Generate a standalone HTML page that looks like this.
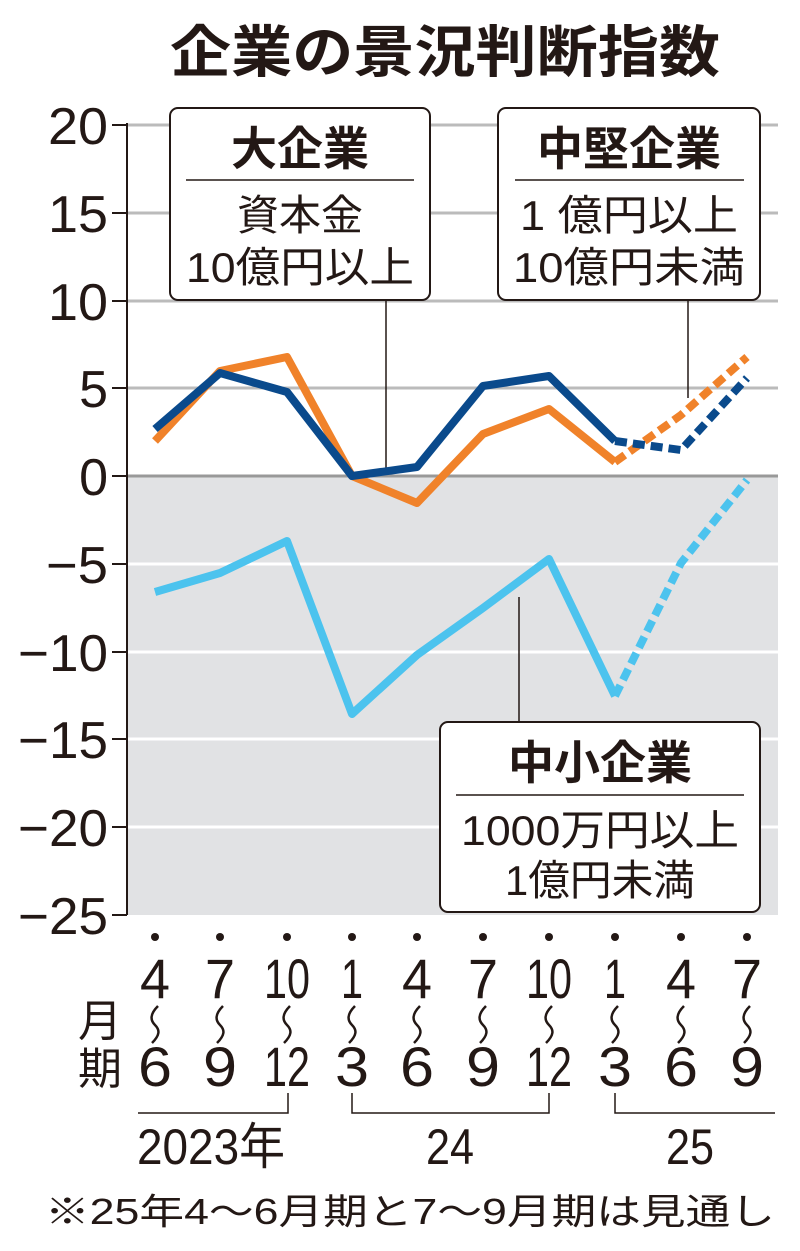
<!DOCTYPE html>
<html><head><meta charset="utf-8"><style>
body{margin:0;background:#fff}
svg{display:block}
text{font-family:"Liberation Sans","Noto Sans CJK JP",sans-serif;fill:#231815}
</style></head><body>
<svg width="800" height="1251" viewBox="0 0 800 1251" xmlns="http://www.w3.org/2000/svg">
<text x="445" y="72" font-size="56" font-weight="bold" text-anchor="middle" textLength="550" lengthAdjust="spacingAndGlyphs">企業の景況判断指数</text>
<rect x="127" y="476" width="651" height="439" fill="#e1e2e4"/>
<g stroke="#bbb" stroke-width="3">
<line x1="127" y1="125" x2="778" y2="125"/><line x1="127" y1="213" x2="778" y2="213"/>
<line x1="127" y1="301" x2="778" y2="301"/><line x1="127" y1="388" x2="778" y2="388"/>
</g>
<g stroke="#fff" stroke-width="3">
<line x1="127" y1="564" x2="778" y2="564"/><line x1="127" y1="652" x2="778" y2="652"/>
<line x1="127" y1="739" x2="778" y2="739"/><line x1="127" y1="827" x2="778" y2="827"/>
</g>
<line x1="127" y1="476" x2="778" y2="476" stroke="#999" stroke-width="3"/>
<line x1="127" y1="123" x2="127" y2="915" stroke="#231815" stroke-width="2"/>
<g stroke="#231815" stroke-width="2">
<line x1="112" y1="125" x2="127" y2="125"/><line x1="112" y1="213" x2="127" y2="213"/><line x1="112" y1="301" x2="127" y2="301"/><line x1="112" y1="388" x2="127" y2="388"/><line x1="112" y1="476" x2="127" y2="476"/><line x1="112" y1="564" x2="127" y2="564"/><line x1="112" y1="652" x2="127" y2="652"/><line x1="112" y1="739" x2="127" y2="739"/><line x1="112" y1="827" x2="127" y2="827"/><line x1="112" y1="915" x2="127" y2="915"/>
</g>
<g font-size="52" text-anchor="end" lengthAdjust="spacingAndGlyphs">
<text x="108" y="144" textLength="60" lengthAdjust="spacingAndGlyphs">20</text><text x="108" y="232" textLength="60" lengthAdjust="spacingAndGlyphs">15</text><text x="108" y="320" textLength="60" lengthAdjust="spacingAndGlyphs">10</text><text x="108" y="407">5</text><text x="108" y="495">0</text>
<text x="108" y="583" textLength="62" lengthAdjust="spacingAndGlyphs">−5</text><text x="108" y="671" textLength="90" lengthAdjust="spacingAndGlyphs">−10</text><text x="108" y="758" textLength="90" lengthAdjust="spacingAndGlyphs">−15</text><text x="108" y="846" textLength="90" lengthAdjust="spacingAndGlyphs">−20</text><text x="108" y="934" textLength="90" lengthAdjust="spacingAndGlyphs">−25</text>
</g>
<g stroke="#231815" stroke-width="1.5">
<line x1="386" y1="300" x2="386" y2="472"/><line x1="688" y1="300" x2="688" y2="398"/><line x1="519" y1="597" x2="519" y2="722"/>
</g>
<g fill="none" stroke-width="8" stroke-linejoin="round">
<polyline stroke="#f0822a" points="155,441 220,371 287,357 352,476 417,503 483,434 549,409 615,462"/>
<polyline stroke="#f0822a" stroke-dasharray="12,6" points="615,462 681,415 747,357"/>
<polyline stroke="#0a4a8c" points="155,429 220,373 287,392 352,476 417,467 483,386 549,376 615,441"/>
<polyline stroke="#0a4a8c" stroke-dasharray="12,6" points="615,441 681,450 747,378"/>
<polyline stroke="#4cc3ee" points="155,592 220,573 287,541 352,714 417,655 483,608 549,559 615,696"/>
<polyline stroke="#4cc3ee" stroke-dasharray="12,6" points="615,696 681,563 747,480"/>
</g>
<g fill="#fff" stroke="#231815" stroke-width="2">
<rect x="170" y="108" width="260" height="192" rx="8"/>
<rect x="498" y="108" width="262" height="192" rx="8"/>
<rect x="440" y="722" width="320" height="190" rx="8"/>
</g>
<g stroke="#231815" stroke-width="1.5">
<line x1="186" y1="180" x2="414" y2="180"/><line x1="515" y1="180" x2="744" y2="180"/><line x1="456" y1="795" x2="744" y2="795"/>
</g>
<g text-anchor="middle">
<text x="300" y="165" font-size="46" font-weight="bold">大企業</text>
<text x="300" y="230" font-size="42">資本金</text>
<text x="300" y="282" font-size="42" textLength="228" lengthAdjust="spacingAndGlyphs">10億円以上</text>
<text x="629" y="165" font-size="46" font-weight="bold">中堅企業</text>
<text x="629" y="230" font-size="42" textLength="218" lengthAdjust="spacingAndGlyphs">1 億円以上</text>
<text x="629" y="282" font-size="42" textLength="232" lengthAdjust="spacingAndGlyphs">10億円未満</text>
<text x="600" y="779" font-size="46" font-weight="bold">中小企業</text>
<text x="600" y="845" font-size="42" textLength="278" lengthAdjust="spacingAndGlyphs">1000万円以上</text>
<text x="600" y="895" font-size="42" textLength="190" lengthAdjust="spacingAndGlyphs">1億円未満</text>
</g>
<g fill="#231815">
<circle cx="155" cy="937" r="4"/><circle cx="220" cy="937" r="4"/><circle cx="287" cy="937" r="4"/><circle cx="352" cy="937" r="4"/><circle cx="417" cy="937" r="4"/><circle cx="483" cy="937" r="4"/><circle cx="549" cy="937" r="4"/><circle cx="615" cy="937" r="4"/><circle cx="681" cy="937" r="4"/><circle cx="747" cy="937" r="4"/>
</g>
<g font-size="56" text-anchor="middle">
<text x="155" y="998" textLength="30" lengthAdjust="spacingAndGlyphs">4</text><text x="220" y="998" textLength="30" lengthAdjust="spacingAndGlyphs">7</text><text x="287" y="998" textLength="46" lengthAdjust="spacingAndGlyphs">10</text><text x="352" y="998" textLength="22" lengthAdjust="spacingAndGlyphs">1</text><text x="417" y="998" textLength="30" lengthAdjust="spacingAndGlyphs">4</text><text x="483" y="998" textLength="30" lengthAdjust="spacingAndGlyphs">7</text><text x="549" y="998" textLength="46" lengthAdjust="spacingAndGlyphs">10</text><text x="615" y="998" textLength="22" lengthAdjust="spacingAndGlyphs">1</text><text x="681" y="998" textLength="30" lengthAdjust="spacingAndGlyphs">4</text><text x="747" y="998" textLength="30" lengthAdjust="spacingAndGlyphs">7</text>
<text x="155" y="1086" textLength="34" lengthAdjust="spacingAndGlyphs">6</text><text x="220" y="1086" textLength="34" lengthAdjust="spacingAndGlyphs">9</text><text x="287" y="1086" textLength="46" lengthAdjust="spacingAndGlyphs">12</text><text x="352" y="1086" textLength="34" lengthAdjust="spacingAndGlyphs">3</text><text x="417" y="1086" textLength="34" lengthAdjust="spacingAndGlyphs">6</text><text x="483" y="1086" textLength="34" lengthAdjust="spacingAndGlyphs">9</text><text x="549" y="1086" textLength="46" lengthAdjust="spacingAndGlyphs">12</text><text x="615" y="1086" textLength="34" lengthAdjust="spacingAndGlyphs">3</text><text x="681" y="1086" textLength="34" lengthAdjust="spacingAndGlyphs">6</text><text x="747" y="1086" textLength="34" lengthAdjust="spacingAndGlyphs">9</text>
</g>
<g fill="none" stroke="#231815" stroke-width="2.5">
<path d="M158,1006 C150,1014 150,1020 155,1025 C160,1030 160,1035 152,1043" transform="translate(0,0)"/>
<path d="M158,1006 C150,1014 150,1020 155,1025 C160,1030 160,1035 152,1043" transform="translate(65,0)"/>
<path d="M158,1006 C150,1014 150,1020 155,1025 C160,1030 160,1035 152,1043" transform="translate(132,0)"/>
<path d="M158,1006 C150,1014 150,1020 155,1025 C160,1030 160,1035 152,1043" transform="translate(197,0)"/>
<path d="M158,1006 C150,1014 150,1020 155,1025 C160,1030 160,1035 152,1043" transform="translate(262,0)"/>
<path d="M158,1006 C150,1014 150,1020 155,1025 C160,1030 160,1035 152,1043" transform="translate(328,0)"/>
<path d="M158,1006 C150,1014 150,1020 155,1025 C160,1030 160,1035 152,1043" transform="translate(394,0)"/>
<path d="M158,1006 C150,1014 150,1020 155,1025 C160,1030 160,1035 152,1043" transform="translate(460,0)"/>
<path d="M158,1006 C150,1014 150,1020 155,1025 C160,1030 160,1035 152,1043" transform="translate(526,0)"/>
<path d="M158,1006 C150,1014 150,1020 155,1025 C160,1030 160,1035 152,1043" transform="translate(592,0)"/>
</g>
<text x="100" y="1036" font-size="44" text-anchor="middle">月</text>
<text x="100" y="1084" font-size="44" text-anchor="middle">期</text>
<g fill="none" stroke="#231815" stroke-width="1.5">
<polyline points="138,1113 288,1113 288,1093"/>
<polyline points="352,1093 352,1113 549,1113 549,1093"/>
<polyline points="615,1093 615,1113 775,1113"/>
</g>
<g font-size="50" text-anchor="middle">
<text x="211" y="1164" textLength="148" lengthAdjust="spacingAndGlyphs">2023年</text>
<text x="450" y="1164" textLength="48" lengthAdjust="spacingAndGlyphs">24</text>
<text x="690" y="1164" textLength="48" lengthAdjust="spacingAndGlyphs">25</text>
</g>
<text x="45" y="1224" font-size="36" textLength="730" lengthAdjust="spacingAndGlyphs">※25年4〜6月期と7〜9月期は見通し</text>
</svg>
</body></html>
